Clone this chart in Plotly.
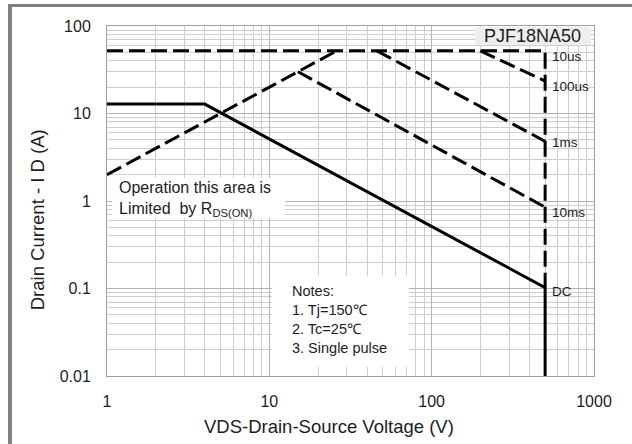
import numpy as np
import plotly.graph_objects as go

# Safe operating area, PJF18NA50 (VDS in volts, ID in amperes)
vds_dc = [1, 4, 500, 500]
id_dc = [12.8, 12.8, 0.1024, 0.01]

vds_rds = [1, 26]
id_rds = [2.0, 52.0]

vds_10us = [1, 500, 500]
id_10us = [52.0, 52.0, 0.1024]

vds_100us = [199, 500]
id_100us = [52.0, 23.5]

vds_1ms = [46, 500]
id_1ms = [52.0, 4.8]

vds_10ms = [15, 500]
id_10ms = [30.0, 0.85]

x_ticks = [1, 10, 100, 1000]
x_ticktext = ["1", "10", "100", "1000"]
y_ticks = [0.01, 0.1, 1, 10, 100]
y_ticktext = ["0.01", "0.1", "1", "10", "100"]

x_minor = [k * 10 ** e for e in range(0, 3) for k in range(2, 10)]
y_minor = [k * 10 ** e for e in range(-2, 2) for k in range(2, 10)]

FONT = "Liberation Sans, Arial, sans-serif"
TXT = "#1c1c24"
DASH = "16px,6px"

fig = go.Figure()

def add_line(x, y, dash=None):
    fig.add_trace(go.Scatter(
        x=x, y=y, mode="lines", showlegend=False, hoverinfo="skip",
        line=dict(color="black", width=3, dash=dash)))

add_line(vds_rds, id_rds, DASH)
add_line(vds_10us, id_10us, DASH)
add_line(vds_100us, id_100us, DASH)
add_line(vds_1ms, id_1ms, DASH)
add_line(vds_10ms, id_10ms, DASH)
add_line(vds_dc, id_dc)

# curve labels at the 500 V end of each limit
curve_labels = [
    ("10us", vds_10us[1], id_10us[1], -6),
    ("100us", vds_100us[-1], id_100us[-1], -5),
    ("1ms", vds_1ms[-1], id_1ms[-1], -1),
    ("10ms", vds_10ms[-1], id_10ms[-1], -5),
    ("DC", vds_dc[2], id_dc[2], -4),
]
for text, xv, yv, ys in curve_labels:
    fig.add_annotation(x=np.log10(xv), y=np.log10(yv), xref="x", yref="y",
                       text=text, showarrow=False, xanchor="left", yanchor="middle",
                       xshift=5, yshift=ys, font=dict(family=FONT, size=13.5, color=TXT))

# text boxes
boxes = [
    (0.7556, 0.9938, 0.9457, 0.9971, "#eeeeee"),
    (0.0103, 0.3655, 0.4514, 0.5657, "white"),
    (0.3388, 0.6201, 0.0257, 0.2857, "white"),
]
for x0, x1, y0, y1, col in boxes:
    fig.add_shape(type="rect", xref="paper", yref="paper", x0=x0, x1=x1, y0=y0, y1=y1,
                  fillcolor=col, line=dict(width=0), layer="above")

fig.add_annotation(x=0.8747, y=0.9714, xref="paper", yref="paper", text="PJF18NA50",
                   showarrow=False, xanchor="center", yanchor="middle",
                   font=dict(family=FONT, size=18, color=TXT))
fig.add_annotation(x=0.0205, y=0.5071, xref="paper", yref="paper",
                   text="Operation this area is<br>Limited  by R<sub>DS(ON)</sub>",
                   showarrow=False, xanchor="left", yanchor="middle", align="left",
                   font=dict(family=FONT, size=16, color=TXT))
fig.add_annotation(x=0.3758, y=0.1614, xref="paper", yref="paper",
                   text="Notes:<br>1. Tj=150℃<br>2. Tc=25℃<br>3. Single pulse",
                   showarrow=False, xanchor="left", yanchor="middle", align="left",
                   font=dict(family=FONT, size=14.5, color=TXT))

# axis titles
fig.add_annotation(x=0.455, y=-0.1429, xref="paper", yref="paper",
                   text="VDS-Drain-Source Voltage (V)", showarrow=False,
                   xanchor="center", yanchor="middle",
                   font=dict(family=FONT, size=18.5, color=TXT))
fig.add_annotation(x=-0.1437, y=0.445, xref="paper", yref="paper",
                   text="Drain Current - I D (A)", showarrow=False, textangle=-90,
                   xanchor="center", yanchor="middle",
                   font=dict(family=FONT, size=18.5, color=TXT))

# grey frame around the figure (top and left edges)
FRAME = "#808080"
fig.add_shape(type="rect", xref="paper", yref="paper", x0=-0.2033, x1=1.08,
              y0=1.0543, y1=1.0629, fillcolor=FRAME, line=dict(width=0), layer="above")
fig.add_shape(type="rect", xref="paper", yref="paper", x0=-0.2033, x1=-0.1951,
              y0=-0.2, y1=1.0629, fillcolor=FRAME, line=dict(width=0), layer="above")

GRID = "#b4b4b4"
MINOR = "#cdcdcd"
fig.update_xaxes(type="log", range=[0, 3], tickmode="array", tickvals=x_ticks,
                 ticktext=x_ticktext, showgrid=True, gridcolor=GRID, gridwidth=1,
                 minor=dict(tickmode="array", tickvals=x_minor, showgrid=True,
                            gridcolor=MINOR, gridwidth=1),
                 showline=True, mirror=True, linecolor="#a0a0a0", linewidth=1,
                 ticks="", ticklabelstandoff=11, zeroline=False,
                 tickfont=dict(family=FONT, size=16, color=TXT))
fig.update_yaxes(type="log", range=[-2, 2], tickmode="array", tickvals=y_ticks,
                 ticktext=y_ticktext, showgrid=True, gridcolor=GRID, gridwidth=1,
                 minor=dict(tickmode="array", tickvals=y_minor, showgrid=True,
                            gridcolor=MINOR, gridwidth=1),
                 showline=True, mirror=True, linecolor="#a0a0a0", linewidth=1,
                 ticks="", ticklabelstandoff=12, zeroline=False,
                 tickfont=dict(family=FONT, size=16, color=TXT))

fig.update_layout(width=632, height=444,
                  margin=dict(l=107, r=38, t=26, b=68, autoexpand=False),
                  paper_bgcolor="white", plot_bgcolor="white", showlegend=False)

fig.write_html("out.html")
